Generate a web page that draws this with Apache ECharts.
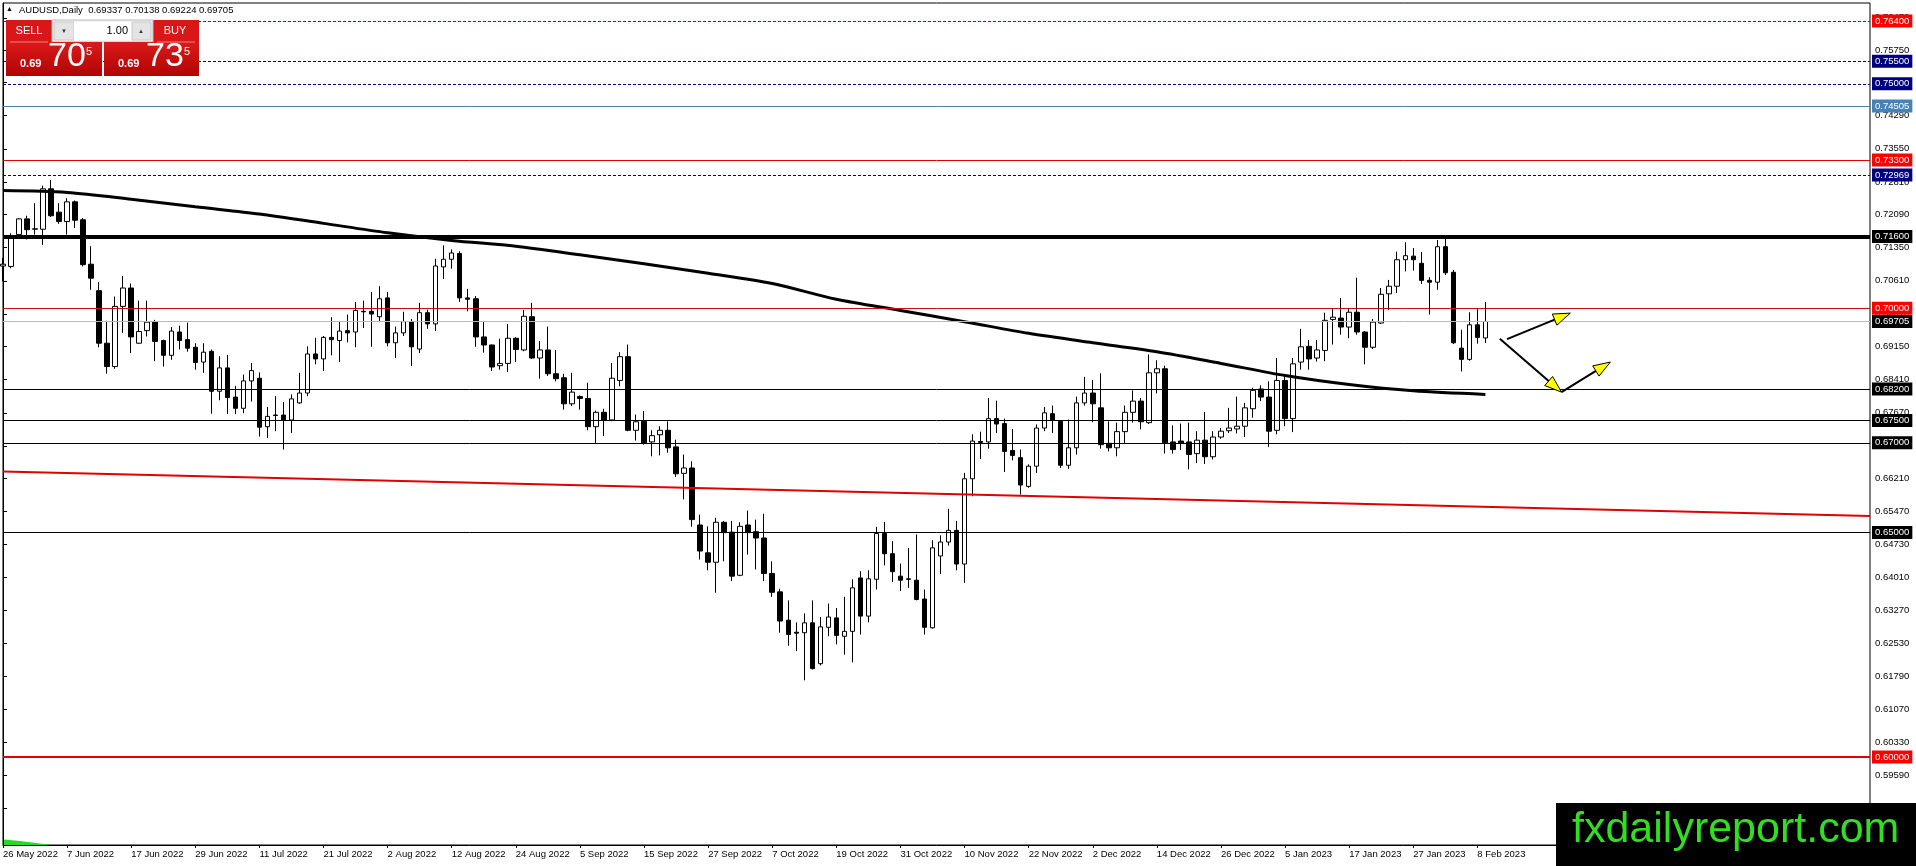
<!DOCTYPE html>
<html lang="en">
<head>
    <meta charset="UTF-8">
    <title>AUDUSD Daily</title>
    <script src="https://cdn.jsdelivr.net/npm/echarts@6/dist/echarts.min.js"></script>
    <style>
        html, body { margin: 0; padding: 0; background: #fff; }
        #main { width: 1916px; height: 866px; }
    </style>
</head>
<body>
<div id="main"></div>
<script type="text/javascript">
    // tick labels on the time axis, one every 8 bars
    var dateLabels = ['26 May 2022', '7 Jun 2022', '17 Jun 2022', '29 Jun 2022', '11 Jul 2022', '21 Jul 2022',
        '2 Aug 2022', '12 Aug 2022', '24 Aug 2022', '5 Sep 2022', '15 Sep 2022', '27 Sep 2022',
        '7 Oct 2022', '19 Oct 2022', '31 Oct 2022', '10 Nov 2022', '22 Nov 2022', '2 Dec 2022',
        '14 Dec 2022', '26 Dec 2022', '5 Jan 2023', '17 Jan 2023', '27 Jan 2023', '8 Feb 2023'];
    var labelStep = 8;
    var slotCount = 234; // bars + empty space on the right

    // price scale labels
    var priceTicks = [0.7647, 0.7575, 0.7503, 0.7429, 0.7355, 0.7281, 0.7209, 0.7135, 0.7061, 0.6987,
        0.6915, 0.6841, 0.6767, 0.6693, 0.6621, 0.6547, 0.6473, 0.6401, 0.6327, 0.6253, 0.6179,
        0.6107, 0.6033, 0.5959, 0.5885];

    // daily bars: open, high, low, close
    var ohlc = [
        [0.7094, 0.7112, 0.7060, 0.7098], [0.7093, 0.7167, 0.7089, 0.7156], [0.7164, 0.7201, 0.7160, 0.7199],
        [0.7199, 0.7206, 0.7153, 0.7175], [0.7176, 0.7234, 0.7164, 0.7177], [0.7176, 0.7273, 0.7141, 0.7266],
        [0.7266, 0.7286, 0.7203, 0.7206], [0.7214, 0.7234, 0.7188, 0.7193], [0.7193, 0.7245, 0.7164, 0.7237],
        [0.7237, 0.7240, 0.7179, 0.7196], [0.7197, 0.7201, 0.7093, 0.7097], [0.7098, 0.7138, 0.7041, 0.7067],
        [0.7039, 0.7058, 0.6913, 0.6922], [0.6922, 0.6972, 0.6854, 0.6870], [0.6870, 0.7026, 0.6865, 0.7004],
        [0.7004, 0.7072, 0.6945, 0.7045], [0.7045, 0.7055, 0.6900, 0.6936], [0.6922, 0.7017, 0.6921, 0.6948],
        [0.6950, 0.7017, 0.6937, 0.6969], [0.6969, 0.6974, 0.6882, 0.6926], [0.6928, 0.6930, 0.6870, 0.6895],
        [0.6895, 0.6958, 0.6885, 0.6949], [0.6947, 0.6961, 0.6908, 0.6928], [0.6930, 0.6968, 0.6903, 0.6911],
        [0.6913, 0.6922, 0.6863, 0.6879], [0.6880, 0.6922, 0.6856, 0.6902], [0.6904, 0.6908, 0.6765, 0.6815],
        [0.6815, 0.6893, 0.6795, 0.6867], [0.6867, 0.6896, 0.6764, 0.6801], [0.6802, 0.6827, 0.6764, 0.6777],
        [0.6777, 0.6852, 0.6766, 0.6838], [0.6838, 0.6878, 0.6792, 0.6861], [0.6844, 0.6857, 0.6714, 0.6735],
        [0.6736, 0.6780, 0.6711, 0.6759], [0.6762, 0.6804, 0.6726, 0.6761], [0.6762, 0.6791, 0.6685, 0.6751],
        [0.6751, 0.6808, 0.6722, 0.6798], [0.6789, 0.6856, 0.6787, 0.6811], [0.6811, 0.6915, 0.6804, 0.6898],
        [0.6898, 0.6934, 0.6875, 0.6887], [0.6887, 0.6938, 0.6860, 0.6935], [0.6935, 0.6980, 0.6895, 0.6930],
        [0.6928, 0.6969, 0.6880, 0.6949], [0.6950, 0.6986, 0.6924, 0.6945], [0.6947, 0.7014, 0.6913, 0.6995],
        [0.6993, 0.7017, 0.6956, 0.6992], [0.6993, 0.7036, 0.6914, 0.6987], [0.6981, 0.7049, 0.6969, 0.7021],
        [0.7023, 0.7036, 0.6915, 0.6923], [0.6923, 0.6959, 0.6889, 0.6945], [0.6945, 0.6992, 0.6938, 0.6970],
        [0.6970, 0.6976, 0.6871, 0.6914], [0.6909, 0.7012, 0.6900, 0.6990], [0.6990, 0.6997, 0.6954, 0.6965],
        [0.6965, 0.7110, 0.6949, 0.7094], [0.7092, 0.7140, 0.7065, 0.7109], [0.7109, 0.7131, 0.7088, 0.7123],
        [0.7122, 0.7127, 0.7014, 0.7023], [0.7023, 0.7043, 0.6993, 0.7020], [0.7021, 0.7027, 0.6914, 0.6936],
        [0.6936, 0.6971, 0.6901, 0.6918], [0.6918, 0.6919, 0.6860, 0.6869], [0.6872, 0.6932, 0.6863, 0.6877],
        [0.6877, 0.6965, 0.6858, 0.6933], [0.6933, 0.6935, 0.6880, 0.6908], [0.6907, 0.6996, 0.6904, 0.6982],
        [0.6981, 0.7012, 0.6887, 0.6889], [0.6889, 0.6927, 0.6843, 0.6907], [0.6907, 0.6959, 0.6849, 0.6854],
        [0.6854, 0.6907, 0.6837, 0.6843], [0.6845, 0.6854, 0.6774, 0.6787], [0.6787, 0.6856, 0.6782, 0.6813],
        [0.6803, 0.6806, 0.6774, 0.6799], [0.6799, 0.6834, 0.6728, 0.6736], [0.6736, 0.6772, 0.6700, 0.6768],
        [0.6768, 0.6776, 0.6715, 0.6751], [0.6751, 0.6878, 0.6748, 0.6844], [0.6839, 0.6902, 0.6826, 0.6892],
        [0.6892, 0.6919, 0.6726, 0.6728], [0.6728, 0.6763, 0.6705, 0.6747], [0.6748, 0.6771, 0.6696, 0.6700],
        [0.6702, 0.6728, 0.6670, 0.6716], [0.6718, 0.6737, 0.6672, 0.6728], [0.6728, 0.6748, 0.6678, 0.6689],
        [0.6691, 0.6707, 0.6624, 0.6631], [0.6632, 0.6674, 0.6574, 0.6644], [0.6644, 0.6659, 0.6513, 0.6529],
        [0.6517, 0.6540, 0.6440, 0.6459], [0.6455, 0.6514, 0.6416, 0.6434], [0.6434, 0.6533, 0.6366, 0.6523],
        [0.6523, 0.6526, 0.6436, 0.6500], [0.6501, 0.6526, 0.6392, 0.6403], [0.6405, 0.6523, 0.6403, 0.6514],
        [0.6517, 0.6549, 0.6451, 0.6500], [0.6502, 0.6529, 0.6418, 0.6488], [0.6488, 0.6542, 0.6392, 0.6409],
        [0.6409, 0.6436, 0.6357, 0.6367], [0.6368, 0.6375, 0.6277, 0.6303], [0.6305, 0.6349, 0.6248, 0.6273],
        [0.6278, 0.6300, 0.6236, 0.6276], [0.6277, 0.6320, 0.6171, 0.6299], [0.6299, 0.6349, 0.6195, 0.6197],
        [0.6208, 0.6312, 0.6204, 0.6290], [0.6289, 0.6342, 0.6269, 0.6312], [0.6310, 0.6332, 0.6251, 0.6271],
        [0.6269, 0.6357, 0.6228, 0.6280], [0.6280, 0.6396, 0.6211, 0.6377], [0.6399, 0.6414, 0.6273, 0.6314],
        [0.6314, 0.6416, 0.6300, 0.6397], [0.6396, 0.6513, 0.6373, 0.6498], [0.6498, 0.6524, 0.6427, 0.6453],
        [0.6453, 0.6481, 0.6390, 0.6413], [0.6403, 0.6431, 0.6370, 0.6394], [0.6397, 0.6466, 0.6377, 0.6396],
        [0.6394, 0.6496, 0.6349, 0.6351], [0.6352, 0.6373, 0.6273, 0.6289], [0.6288, 0.6483, 0.6286, 0.6466],
        [0.6448, 0.6494, 0.6408, 0.6479], [0.6479, 0.6553, 0.6471, 0.6505], [0.6505, 0.6526, 0.6416, 0.6430],
        [0.6430, 0.6633, 0.6388, 0.6620], [0.6620, 0.6719, 0.6581, 0.6704], [0.6703, 0.6725, 0.6664, 0.6701],
        [0.6702, 0.6800, 0.6687, 0.6754], [0.6754, 0.6794, 0.6722, 0.6742], [0.6743, 0.6754, 0.6635, 0.6681],
        [0.6683, 0.6731, 0.6661, 0.6672], [0.6667, 0.6685, 0.6585, 0.6606], [0.6603, 0.6652, 0.6600, 0.6648],
        [0.6648, 0.6741, 0.6633, 0.6733], [0.6733, 0.6780, 0.6726, 0.6767], [0.6765, 0.6783, 0.6722, 0.6750],
        [0.6748, 0.6750, 0.6644, 0.6650], [0.6650, 0.6752, 0.6642, 0.6689], [0.6689, 0.6803, 0.6674, 0.6789],
        [0.6789, 0.6847, 0.6783, 0.6811], [0.6811, 0.6840, 0.6746, 0.6787], [0.6778, 0.6855, 0.6687, 0.6696],
        [0.6699, 0.6748, 0.6681, 0.6689], [0.6689, 0.6745, 0.6670, 0.6725], [0.6725, 0.6783, 0.6700, 0.6768],
        [0.6768, 0.6817, 0.6745, 0.6793], [0.6793, 0.6800, 0.6730, 0.6747], [0.6745, 0.6897, 0.6742, 0.6856],
        [0.6856, 0.6884, 0.6810, 0.6865], [0.6865, 0.6872, 0.6676, 0.6700], [0.6702, 0.6739, 0.6676, 0.6685],
        [0.6704, 0.6743, 0.6684, 0.6700], [0.6702, 0.6745, 0.6641, 0.6674], [0.6676, 0.6726, 0.6655, 0.6706],
        [0.6706, 0.6769, 0.6653, 0.6669], [0.6669, 0.6726, 0.6663, 0.6713], [0.6713, 0.6733, 0.6709, 0.6726],
        [0.6727, 0.6778, 0.6722, 0.6733], [0.6731, 0.6803, 0.6721, 0.6737], [0.6737, 0.6789, 0.6713, 0.6778],
        [0.6776, 0.6823, 0.6756, 0.6817], [0.6820, 0.6828, 0.6793, 0.6802], [0.6802, 0.6837, 0.6691, 0.6726],
        [0.6728, 0.6889, 0.6719, 0.6839], [0.6839, 0.6847, 0.6737, 0.6754], [0.6754, 0.6889, 0.6724, 0.6876],
        [0.6880, 0.6954, 0.6863, 0.6914], [0.6915, 0.6929, 0.6863, 0.6887], [0.6889, 0.6929, 0.6881, 0.6907],
        [0.6906, 0.6990, 0.6882, 0.6973], [0.6975, 0.6999, 0.6919, 0.6980], [0.6978, 0.7023, 0.6941, 0.6958],
        [0.6958, 0.6999, 0.6933, 0.6991], [0.6991, 0.7068, 0.6941, 0.6947], [0.6947, 0.6949, 0.6875, 0.6913],
        [0.6913, 0.6976, 0.6909, 0.6969], [0.6967, 0.7045, 0.6965, 0.7031], [0.7032, 0.7063, 0.6996, 0.7049],
        [0.7049, 0.7126, 0.7034, 0.7108], [0.7108, 0.7147, 0.7082, 0.7117], [0.7116, 0.7134, 0.7084, 0.7108],
        [0.7100, 0.7125, 0.7054, 0.7062], [0.7062, 0.7069, 0.6986, 0.7058], [0.7058, 0.7152, 0.7041, 0.7137],
        [0.7137, 0.7158, 0.7074, 0.7079], [0.7080, 0.7085, 0.6920, 0.6923], [0.6911, 0.6952, 0.6859, 0.6886],
        [0.6886, 0.6991, 0.6883, 0.6963], [0.6963, 0.6999, 0.6921, 0.6935], [0.69337, 0.70138, 0.69224, 0.69705]
    ];

    // moving average read at every 8th bar (+ last bar)
    var maIndex = [0, 8, 16, 24, 32, 40, 48, 56, 64, 72, 80, 88, 96, 104, 112, 120, 128, 136, 144, 152, 160, 168, 176, 185];
    var maValue = [0.7262, 0.7258, 0.7243, 0.7226, 0.7210, 0.7189, 0.7168, 0.7151, 0.7138, 0.7119, 0.7099, 0.7078,
        0.7055, 0.7020, 0.6995, 0.6970, 0.6944, 0.6923, 0.6903, 0.6877, 0.6850, 0.6830, 0.6816, 0.6808];

    // red trend line, two anchor points (bar index, price)
    var trendIndex = [0, 233];
    var trendValue = [0.6636, 0.6537];

    // horizontal levels
    var levelPrice = [0.7640, 0.7550, 0.7500, 0.74505, 0.7330, 0.72969, 0.7160, 0.7000, 0.69705, 0.6820, 0.6750, 0.6700, 0.6500, 0.6000];
    var levelColor = ['#c00000', '#000080', '#000080', '#4682b4', '#e00000', '#000080', '#000000', '#c81010', '#b8b8b8', '#000000', '#000000', '#000000', '#000000', '#e00000'];
    var levelTag = ['#ff0000', '#000080', '#000080', '#4682b4', '#ff0000', '#000080', '#000000', '#ff0000', '#000000', '#000000', '#000000', '#000000', '#000000', '#ff0000'];
    var levelWidth = [1, 1, 1, 1, 1, 1, 4, 1, 1, 1, 1, 1, 1, 2];
    var levelDash = [true, true, true, false, false, true, false, false, false, false, false, false, false, false];

    // hand-drawn arrows: [fromIndex, fromPrice, toIndex, toPrice]
    var arrows = [
        [187.7, 0.6931, 195.6, 0.6989],
        [186.8, 0.6932, 194.5, 0.6813],
        [194.5, 0.6813, 200.6, 0.6880]
    ];

    var cats = [];
    for (var i = 0; i < slotCount; i++) {
        var k = i / labelStep;
        cats.push(i % labelStep === 0 && k < dateLabels.length ? dateLabels[k] : '');
    }
    // echarts wants open, close, low, high
    var candles = ohlc.map(function (d) { return [d[0], d[3], d[2], d[1]]; });
    var maData = maIndex.map(function (x, j) { return [x, maValue[j]]; });
    var trendData = trendIndex.map(function (x, j) { return [x, trendValue[j]]; });

    var levels = levelPrice.map(function (p, j) {
        return {
            yAxis: p,
            lineStyle: {color: levelColor[j], width: levelWidth[j], type: levelDash[j] ? [3, 2] : 'solid'},
            label: {backgroundColor: levelTag[j]}
        };
    });

    var font = 'Liberation Sans, Arial, sans-serif';
    var showLabel = function (idx, val) { return val !== ''; };

    var myChart = echarts.init(document.getElementById('main'));
    var option = {
        animation: false,
        backgroundColor: '#fff',
        grid: {left: 3, top: 3, right: 46, bottom: 21, show: true, borderColor: '#000', borderWidth: 1},
        xAxis: [{
            type: 'category',
            data: cats,
            boundaryGap: false,
            axisLine: {lineStyle: {color: '#000', width: 1}},
            axisTick: {show: true, interval: showLabel, length: 3, lineStyle: {color: '#000'}},
            axisLabel: {interval: showLabel, align: 'left', margin: 4, color: '#000', fontSize: 9.5, fontFamily: font},
            splitLine: {show: false}
        }, {
            type: 'value',
            min: 0,
            max: slotCount - 1,
            show: false
        }],
        yAxis: {
            type: 'value',
            position: 'right',
            min: 0.5804,
            max: 0.7680,
            scale: true,
            splitLine: {show: false},
            axisLine: {show: true, lineStyle: {color: '#000'}},
            axisTick: {show: true, length: 4, customValues: priceTicks, lineStyle: {color: '#000'}},
            axisLabel: {
                customValues: priceTicks, margin: 5, color: '#000', fontSize: 9.5, fontFamily: font,
                formatter: function (v) { return v.toFixed(5); }
            }
        },
        graphic: [
            // header line
            {type: 'text', left: 6, top: 6, z: 100, style: {text: '\u25B2', fontSize: 7, fill: '#000', fontFamily: font}},
            {type: 'text', left: 19, top: 5, z: 100, style: {text: 'AUDUSD,Daily  0.69337 0.70138 0.69224 0.69705', fontSize: 9.5, fill: '#000', fontFamily: font}},
            // one click trading panel
            {type: 'rect', z: 100, shape: {x: 6, y: 20, width: 46, height: 22}, style: {fill: '#d81818'}},
            {type: 'rect', z: 100, shape: {x: 153, y: 20, width: 46, height: 22}, style: {fill: '#d81818'}},
            {type: 'rect', z: 100, shape: {x: 52, y: 20, width: 101, height: 22}, style: {fill: '#f4f4f4', stroke: '#b8b8b8', lineWidth: 1}},
            {type: 'rect', z: 101, shape: {x: 54, y: 22, width: 20, height: 18}, style: {fill: '#e4e4e4', stroke: '#c8c8c8'}},
            {type: 'rect', z: 101, shape: {x: 74, y: 22, width: 58, height: 18}, style: {fill: '#fff'}},
            {type: 'rect', z: 101, shape: {x: 132, y: 22, width: 19, height: 18}, style: {fill: '#e4e4e4', stroke: '#c8c8c8'}},
            {type: 'text', z: 102, x: 64, y: 31, style: {text: '\u25BC', fontSize: 6, fill: '#333', align: 'center', verticalAlign: 'middle'}},
            {type: 'text', z: 102, x: 141, y: 31, style: {text: '\u25B2', fontSize: 6, fill: '#333', align: 'center', verticalAlign: 'middle'}},
            {type: 'text', z: 102, x: 128, y: 31, style: {text: '1.00', fontSize: 11, fill: '#000', align: 'right', verticalAlign: 'middle', fontFamily: font}},
            {type: 'text', z: 102, x: 29, y: 31, style: {text: 'SELL', fontSize: 11, fill: '#fff', align: 'center', verticalAlign: 'middle', fontFamily: font}},
            {type: 'text', z: 102, x: 175, y: 31, style: {text: 'BUY', fontSize: 11, fill: '#fff', align: 'center', verticalAlign: 'middle', fontFamily: font}},
            {type: 'rect', z: 100, shape: {x: 6, y: 42, width: 96, height: 34}, style: {fill: {type: 'linear', x: 0, y: 0, x2: 0, y2: 1, colorStops: [{offset: 0, color: '#dc1a1a'}, {offset: 1, color: '#b00404'}]}}},
            {type: 'rect', z: 100, shape: {x: 104, y: 42, width: 95, height: 34}, style: {fill: {type: 'linear', x: 0, y: 0, x2: 0, y2: 1, colorStops: [{offset: 0, color: '#dc1a1a'}, {offset: 1, color: '#b00404'}]}}},
            {type: 'line', z: 101, shape: {x1: 10, y1: 42, x2: 48, y2: 42}, style: {stroke: '#f08080', lineWidth: 1}},
            {type: 'line', z: 101, shape: {x1: 157, y1: 42, x2: 195, y2: 42}, style: {stroke: '#f08080', lineWidth: 1}},
            {type: 'text', z: 102, x: 20, y: 69, style: {text: '0.69', fontSize: 11, fontWeight: 'bold', fill: '#fff', verticalAlign: 'bottom', fontFamily: font}},
            {type: 'text', z: 102, x: 48, y: 74, style: {text: '70', fontSize: 34, fill: '#fff', verticalAlign: 'bottom', fontFamily: font}},
            {type: 'text', z: 102, x: 86, y: 57, style: {text: '5', fontSize: 11, fill: '#fff', verticalAlign: 'bottom', fontFamily: font}},
            {type: 'text', z: 102, x: 118, y: 69, style: {text: '0.69', fontSize: 11, fontWeight: 'bold', fill: '#fff', verticalAlign: 'bottom', fontFamily: font}},
            {type: 'text', z: 102, x: 146, y: 74, style: {text: '73', fontSize: 34, fill: '#fff', verticalAlign: 'bottom', fontFamily: font}},
            {type: 'text', z: 102, x: 184, y: 57, style: {text: '5', fontSize: 11, fill: '#fff', verticalAlign: 'bottom', fontFamily: font}},
            // small indicator remnant bottom-left
            {type: 'polygon', z: 100, shape: {points: [[4, 839.5], [20, 841], [52, 845], [4, 845]]}, style: {fill: '#22dd22'}},
            // watermark
            {type: 'rect', z: 200, shape: {x: 1556, y: 803, width: 360, height: 63}, style: {fill: '#000'}},
            {type: 'text', z: 201, x: 1572, y: 830, style: {text: 'fxdailyreport.com', fontSize: 43, fill: '#33dd22', verticalAlign: 'middle', fontFamily: font}}
        ],
        series: [{
            name: 'AUDUSD',
            type: 'candlestick',
            xAxisIndex: 0,
            data: candles,
            barWidth: 5,
            itemStyle: {color: '#fff', color0: '#000', borderColor: '#000', borderColor0: '#000', borderWidth: 1},
            markLine: {
                silent: true,
                precision: 5,
                symbol: ['none', 'none'],
                label: {
                    show: true, position: 'end', distance: 2, color: '#fff', fontSize: 9.5, fontFamily: font,
                    padding: [2, 3, 1, 3],
                    formatter: function (p) { return Number(p.value).toFixed(5); }
                },
                data: levels
            }
        }, {
            name: 'MA',
            type: 'line',
            xAxisIndex: 1,
            data: maData,
            showSymbol: false,
            smooth: 0.3,
            z: 3,
            lineStyle: {color: '#000', width: 3}
        }, {
            name: 'trend',
            type: 'line',
            xAxisIndex: 1,
            data: trendData,
            showSymbol: false,
            z: 3,
            lineStyle: {color: '#e00000', width: 2}
        }, {
            name: 'arrows',
            type: 'custom',
            xAxisIndex: 1,
            data: arrows,
            z: 5,
            renderItem: function (params, api) {
                var p1 = api.coord([api.value(0), api.value(1)]);
                var p2 = api.coord([api.value(2), api.value(3)]);
                var dx = p2[0] - p1[0], dy = p2[1] - p1[1];
                var len = Math.sqrt(dx * dx + dy * dy);
                var ux = dx / len, uy = dy / len;
                var L = 17, W = 6;
                var bx = p2[0] - ux * L, by = p2[1] - uy * L;
                return {
                    type: 'group',
                    children: [{
                        type: 'line',
                        shape: {x1: p1[0], y1: p1[1], x2: bx, y2: by},
                        style: {stroke: '#000', lineWidth: 2}
                    }, {
                        type: 'polygon',
                        shape: {points: [p2, [bx - uy * W, by + ux * W], [bx + uy * W, by - ux * W]]},
                        style: {fill: '#ffff00', stroke: '#000', lineWidth: 1}
                    }]
                };
            }
        }]
    };
    myChart.setOption(option);
</script>
</body>
</html>
